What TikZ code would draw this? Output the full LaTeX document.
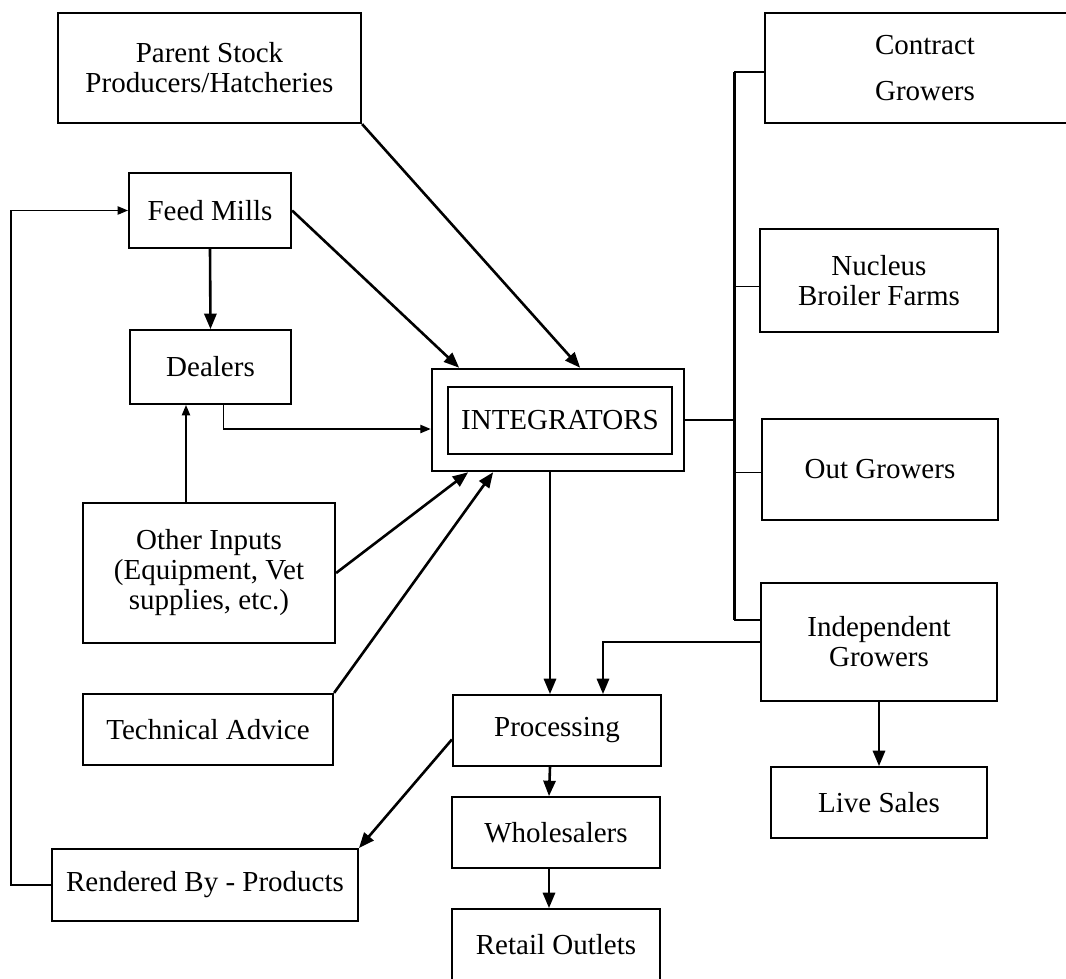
\documentclass[tikz,border=0pt]{standalone}
\usepackage{fontspec}
\setmainfont{Liberation Serif}
\usetikzlibrary{arrows}

\tikzset{
  box/.style={draw,line width=2.2pt,align=center,inner sep=2pt,font=\fontsize{29}{30}\selectfont},
  flow/.style={->,line width=2.6pt},
  link/.style={->,line width=1.4pt},
  bus/.style={line width=3pt}
}

\begin{document}
\begin{tikzpicture}[x=1pt,y=-1pt,>=triangle 45]
  \useasboundingbox (0,0) rectangle (1066,978);
  \node (parent) at (209.5,68) [box,minimum width=303pt,minimum height=110pt] {Parent Stock\\Producers/Hatcheries};
  \node (contract) at (925,68) [box,minimum width=320pt,minimum height=110pt] {Contract\\[16pt]Growers};
  \node (feed) at (210,210.5) [box,minimum width=162pt,minimum height=75pt] {Feed Mills};
  \node (dealers) at (210.5,367) [box,minimum width=161pt,minimum height=74pt] {Dealers};
  \node (nucleus) at (879,280.5) [box,minimum width=238pt,minimum height=103pt] {Nucleus\\Broiler Farms};
  \node (integ) at (558,420) [box,line width=2.8pt,minimum width=252pt,minimum height=102pt] {};
  \node (integin) at (560,420.5) [box,minimum width=224pt,minimum height=67pt] {INTEGRATORS};
  \node (outgr) at (880,469.5) [box,minimum width=236pt,minimum height=101pt] {Out Growers};
  \node (other) at (209,573) [box,minimum width=252pt,minimum height=140pt] {Other Inputs\\(Equipment, Vet\\supplies, etc.)};
  \node (indep) at (879,642) [box,minimum width=236pt,minimum height=118pt] {Independent\\Growers};
  \node (tech) at (208,729.5) [box,minimum width=250pt,minimum height=71pt] {Technical Advice};
  \node (proc) at (557,730.5) [box,minimum width=208pt,minimum height=71pt] {Processing};
  \node (live) at (879,802.5) [box,minimum width=216pt,minimum height=71pt] {Live Sales};
  \node (whole) at (556,832.5) [box,minimum width=208pt,minimum height=71pt] {Wholesalers};
  \node (rendered) at (205,885) [box,minimum width=306pt,minimum height=72pt] {Rendered By - Products};
  \node (retail) at (556,945) [box,minimum width=208pt,minimum height=72pt] {Retail Outlets};
  \coordinate (bustop) at (734,72);
  \coordinate (busbot) at (734,620);
  % inputs into the integrators
  \draw[flow] (parent.south east) -- ([xshift=22pt]integ.north);
  \draw[flow] (feed.east) -- ([xshift=-99pt]integ.north);
  \draw[flow] (feed.south) -- (dealers.north);
  \draw[link] ([xshift=13pt]dealers.south) |- ([yshift=-9pt]integ.west);
  \draw[link] ([xshift=-23pt]other.north) -- ([xshift=-23pt]other.north |- dealers.south);
  \draw[flow] (other.east) -- ([xshift=-90pt]integ.south);
  \draw[flow] (tech.north east) -- ([xshift=-65pt]integ.south);
  % growers
  \draw[line width=1.4pt] (integ.east) -- (integ.east -| bustop);
  \draw[bus] (bustop) -- (busbot);
  \draw[line width=1.6pt] (bustop) -- (bustop -| contract.west);
  \draw[line width=1.6pt] ([yshift=-6pt]nucleus.west) -- ([yshift=-6pt]nucleus.west -| bustop);
  \draw[line width=1.6pt] ([yshift=-3pt]outgr.west) -- ([yshift=-3pt]outgr.west -| bustop);
  \draw[line width=1.6pt] (busbot) -- (busbot -| indep.west);
  % processing chain
  \draw[flow] ([xshift=-8pt]integ.south) -- ([xshift=-8pt]integ.south |- proc.north);
  \draw[flow] (indep.west) -| ([xshift=46pt]proc.north);
  \draw[flow] (indep.south) -- (live.north);
  \draw[flow] ([xshift=-7pt]proc.south) -- ([xshift=-7pt]whole.north);
  \draw[flow] ([xshift=-7pt]whole.south) -- ([xshift=-7pt]retail.north);
  \draw[flow] ([yshift=-9pt]proc.west) -- (rendered.north east);
  \draw[link] (rendered.west) -- ++(-40,0) |- (feed.west);
\end{tikzpicture}
\end{document}
